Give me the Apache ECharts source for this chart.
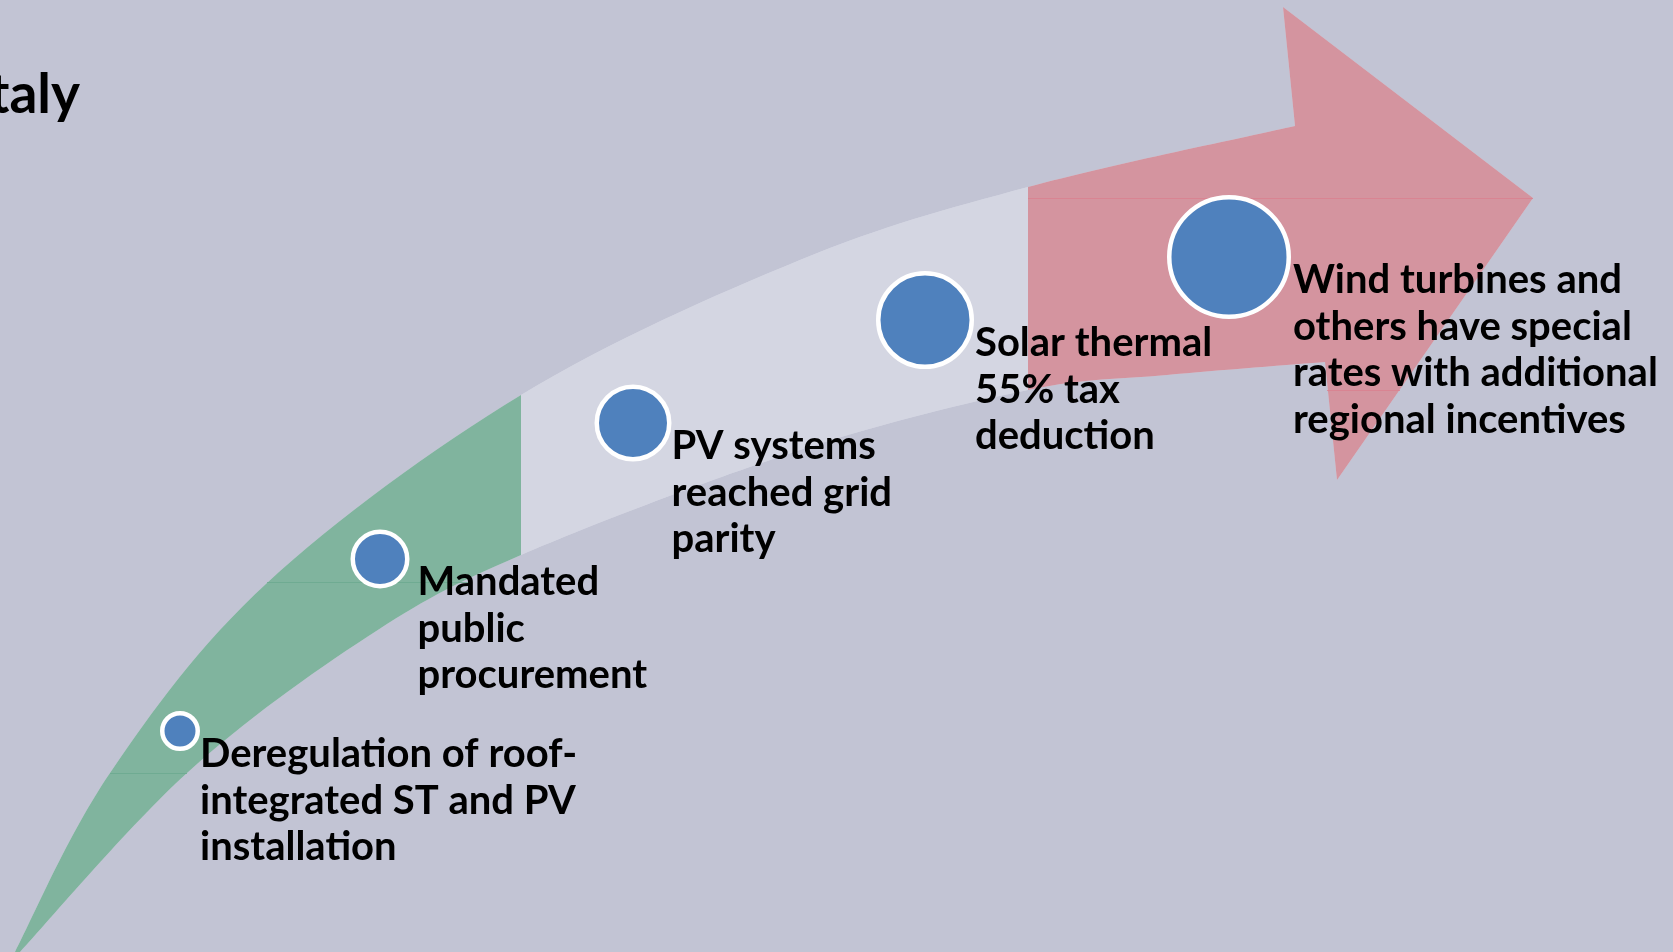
<!DOCTYPE html>
<html><head><meta charset="utf-8">
<script src="https://cdn.jsdelivr.net/npm/echarts@6/dist/echarts.min.js"></script>
<style>html,body{margin:0;padding:0;background:#c2c4d4;overflow:hidden}#c{width:1673px;height:952px}</style>
</head><body><div id="c"></div>
<script>
// ---- data ----
const titleText = 'Italy';
const upperEdge = [[15,952],[110,773],[267,583],[521,395],[800,260],[1028,187],[1295,126]];
const lowerEdge = [[20,952],[187,773],[367,637],[521,555],[800,450],[1028,390],[1167,375],[1325,362]];
const arrowHead = [[1283,7],[1533,198],[1337,480]];
const segmentBounds = [[0,1673],[0,521],[521,1028],[1028,1673]];
const segmentColors = ['#d4d6e2','#80b49e','#d4d6e2','#d4949f'];
// faint horizontal seams visible inside the fills
const seamLines = [[110,773,187,773,0],[267,582,470,582,0],[1028,198,1533,198,1],[1327,390,1400,390,1]];
const seamColors = ['#6aa98e','#d9808f'];
const stepX = [180,380,633,925,1229];
const stepY = [731,559,423,320,257];
const stepR = [20,29.5,38.5,49,62];
const stepLabels = [
  ['Deregulation of roof-','integrated ST and PV','installation'],
  ['Mandated','public','procurement'],
  ['PV systems','reached grid','parity'],
  ['Solar thermal','55% tax','deduction'],
  ['Wind turbines and','others have special','rates with additional','regional incentives']
];
const labelDx = [0,8,0,1,2];

// ---- helpers ----
function pieces(api, pts){
  const px = pts.map(p => api.coord(p));
  const n = px.length, out = [];
  for (let i=0;i<n-1;i++){
    const p0=px[Math.max(i-1,0)], p1=px[i], p2=px[i+1], p3=px[Math.min(i+2,n-1)];
    out.push({
      x0: pts[i][0], x1: pts[i+1][0],
      from: p1, to: p2,
      c1: [p1[0]+(p2[0]-p0[0])/6, p1[1]+(p2[1]-p0[1])/6],
      c2: [p2[0]-(p3[0]-p1[0])/6, p2[1]-(p3[1]-p1[1])/6]
    });
  }
  return out;
}
const f = v => v.toFixed(2);
function segPath(api, a, b){
  const up = pieces(api, upperEdge).filter(p => p.x0>=a && p.x1<=b);
  const lo = pieces(api, lowerEdge).filter(p => p.x0>=a && p.x1<=b);
  let d = 'M' + f(up[0].from[0]) + ' ' + f(up[0].from[1]);
  up.forEach(p => { d += ' C' + f(p.c1[0]) + ' ' + f(p.c1[1]) + ' ' + f(p.c2[0]) + ' ' + f(p.c2[1]) + ' ' + f(p.to[0]) + ' ' + f(p.to[1]); });
  if (b >= 1673) {
    arrowHead.forEach(h => { const q = api.coord(h); d += ' L' + f(q[0]) + ' ' + f(q[1]); });
  }
  const last = lo[lo.length-1];
  d += ' L' + f(last.to[0]) + ' ' + f(last.to[1]);
  for (let i=lo.length-1;i>=0;i--){
    const p = lo[i];
    d += ' C' + f(p.c2[0]) + ' ' + f(p.c2[1]) + ' ' + f(p.c1[0]) + ' ' + f(p.c1[1]) + ' ' + f(p.from[0]) + ' ' + f(p.from[1]);
  }
  return d + ' Z';
}

const chart = echarts.init(document.getElementById('c'), null, {renderer:'canvas'});
const FONT = 'bold 40px Lato';
chart.setOption({
  backgroundColor: '#c2c4d4',
  animation: false,
  grid: {left:0, right:0, top:0, bottom:0},
  xAxis: {type:'value', min:0, max:1673, show:false},
  yAxis: {type:'value', min:0, max:952, inverse:true, show:false},
  graphic: [{
    type:'text', x:80, y:95,
    style:{text:titleText, font:'bold 55px Lato', fill:'#000', align:'right', verticalAlign:'middle'}
  }],
  series: [
    {
      type:'custom', silent:true,
      data: segmentBounds.map((s,i)=>[i]),
      renderItem(params, api){
        const i = api.value(0);
        const s = segmentBounds[i];
        return {type:'path', shape:{pathData: segPath(api, s[0], s[1])}, style:{fill: segmentColors[i]}};
      }
    },
    {
      type:'custom', silent:true, z:3,
      data: seamLines,
      renderItem(params, api){
        const p1 = api.coord([api.value(0), api.value(1)]);
        const p2 = api.coord([api.value(2), api.value(3)]);
        return {type:'line', shape:{x1:p1[0], y1:p1[1]+0.5, x2:p2[0], y2:p2[1]+0.5},
          style:{stroke: seamColors[api.value(4)], lineWidth:1, opacity:0.8}};
      }
    },
    {
      type:'custom', silent:true, z:5,
      data: stepX.map((x,i)=>[x, stepY[i], stepR[i], i]),
      renderItem(params, api){
        const c = api.coord([api.value(0), api.value(1)]);
        const R = api.value(2), i = api.value(3);
        return {type:'group', children:[
          {type:'circle', shape:{cx:c[0], cy:c[1], r:R-2.25}, style:{fill:'#4f81bd', stroke:'#ffffff', lineWidth:4.5}},
          {type:'text', x:c[0]+R+labelDx[i], y:c[1],
           style:{text: stepLabels[i].join('\n'), font:FONT, fill:'#000', lineHeight:46.5, align:'left', verticalAlign:'top'}}
        ]};
      }
    }
  ]
});
</script></body></html>
